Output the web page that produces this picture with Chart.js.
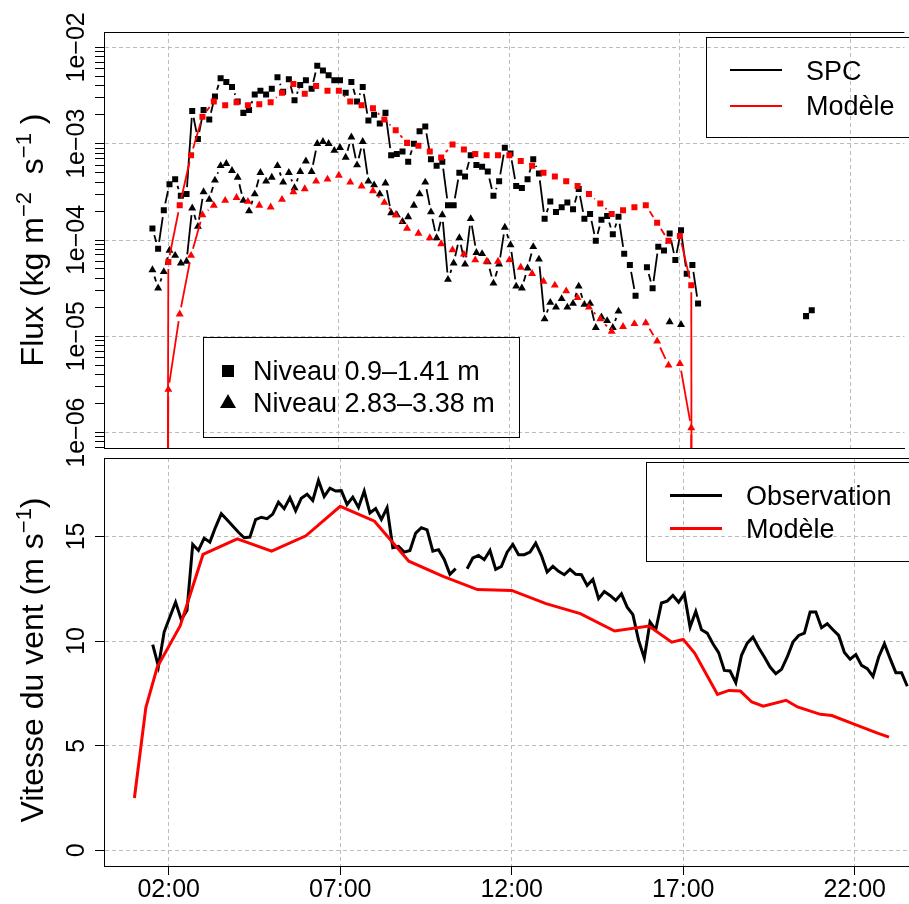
<!DOCTYPE html>
<html>
<head>
<meta charset="utf-8">
<script src="https://cdn.jsdelivr.net/npm/chart.js@4.4.0/dist/chart.umd.min.js"></script>
<style>
  body { margin: 0; background: #fff; overflow: hidden; font-family: "Liberation Sans", Arial, sans-serif; }
  #wrap { position: relative; width: 909px; height: 904px; }
  canvas { position: absolute; left: 0; }
  #flux { top: 0; z-index: 2; }
  #wind { top: 452px; z-index: 1; }
  .box { position: absolute; border: 1px solid #000; z-index: 3; }
  .ln { position: absolute; z-index: 3; }
  .tx { position: absolute; z-index: 3; font-size: 27px; line-height: 30px; color: #000; white-space: nowrap; }
  .sq { position: absolute; z-index: 3; width: 12px; height: 12px; background: #000; }
  .tri { position: absolute; z-index: 3; width: 0; height: 0; border-left: 8px solid transparent; border-right: 8px solid transparent; border-bottom: 14px solid #000; }
</style>
</head>
<body>
<div id="wrap">
  <canvas id="flux" width="909" height="480" style="width:909px;height:480px"></canvas>
  <canvas id="wind" width="909" height="452" style="width:909px;height:452px"></canvas>

  <!-- legend SPC / Modele -->
  <div class="box" style="left:706px;top:37px;width:260px;height:99px"></div>
  <div class="ln" style="left:730px;top:69px;width:52px;border-top:2px solid #000"></div>
  <div class="ln" style="left:730px;top:105px;width:52px;border-top:2px solid #f00"></div>
  <div class="tx" style="left:806px;top:56px">SPC</div>
  <div class="tx" style="left:806px;top:91px">Modèle</div>

  <!-- legend niveaux -->
  <div class="box" style="left:203px;top:337px;width:315px;height:99px"></div>
  <div class="sq" style="left:222px;top:365px"></div>
  <div class="tri" style="left:220px;top:394px"></div>
  <div class="tx" style="left:253px;top:356px">Niveau 0.9–1.41 m</div>
  <div class="tx" style="left:253px;top:388px">Niveau 2.83–3.38 m</div>

  <!-- legend vent -->
  <div class="box" style="left:646px;top:462px;width:280px;height:98px"></div>
  <div class="ln" style="left:670px;top:494px;width:52px;border-top:3px solid #000"></div>
  <div class="ln" style="left:670px;top:527px;width:52px;border-top:3px solid #f00"></div>
  <div class="tx" style="left:746px;top:481px">Observation</div>
  <div class="tx" style="left:746px;top:514px">Modèle</div>
</div>

<script>
// ---- time axis (minutes since 00:00) ----
const xMin = 6.8;
const xMax = 1415;
const hourTicks = [120, 420, 720, 1020, 1320];

// SPC and observed wind: one value every 10 minutes from 01:32
const obsStart = 92;
const obsStep = 10;

// SPC flux, level 0.9-1.41 m (kg m-2 s-1)
const spcLevel1 = [
  1.32e-4, 8.1e-5, 2.04e-4, 3.8e-4, 4.27e-4, 2.88e-4, 3.0e-4, 2.19e-3, 1.12e-3, 2.24e-3,
  1.78e-3, 3.09e-3, 4.79e-3, 4.37e-3, 3.89e-3, 2.75e-3, 2.09e-3, 2.24e-3, 3.24e-3, 3.55e-3,
  3.24e-3, 3.72e-3, 4.9e-3, 3.47e-3, 4.68e-3, 2.82e-3, 4.07e-3, 4.57e-3, 3.72e-3, 6.46e-3,
  5.75e-3, 5.13e-3, 4.57e-3, 4.57e-3, 3.39e-3, 4.37e-3, 2.75e-3, 3.89e-3, 1.74e-3, 2.0e-3,
  1.62e-3, 2.09e-3, 7.6e-4, 7.8e-4, 8.3e-4, 6.5e-4, 1.0e-3, 1.35e-3, 1.51e-3, 6.9e-4,
  5.9e-4, 6.5e-4, 2.29e-4, 2.29e-4, 5.0e-4, 4.57e-4, 7.6e-4, 6.0e-4, 5.75e-4, 5.13e-4,
  2.88e-4, 4.07e-4, 9.1e-4, 7.9e-4, 3.63e-4, 3.47e-4, 4.27e-4, 6.9e-4, 4.9e-4, 1.66e-4,
  2.51e-4, 1.95e-4, 2.19e-4, 2.45e-4, 2.09e-4, 3.39e-4, 1.66e-4, 1.86e-4, 9.8e-5, 1.62e-4,
  1.78e-4, 1.15e-4, 1.74e-4, 7.2e-5, 5.5e-5, 2.63e-5, null, 5.2e-5, 3.16e-5, 8.5e-5,
  7.8e-5, 1.17e-4, 6.2e-5, 1.26e-4, 4.47e-5, 5.5e-5, 2.19e-5, null, null, null,
  null, null, null, null, null, null, null, null, null, null,
  null, null, null, null, null, 1.62e-5, 1.86e-5
];

// SPC flux, level 2.83-3.38 m
const spcLevel2 = [
  4.9e-5, 3.16e-5, 4.68e-5, 7.8e-5, 6.9e-5, 5.75e-5, 6.0e-5, 2.14e-4, 1.38e-4, 3.16e-4,
  2.63e-4, 4.17e-4, 5.9e-4, 6.2e-4, 5.25e-4, 4.47e-4, 2.57e-4, 2.0e-4, 3.0e-4, 5.0e-4,
  4.07e-4, 4.47e-4, 5.9e-4, 3.98e-4, 5.0e-4, 3.47e-4, 5.13e-4, 6.6e-4, 5.13e-4, 1.0e-3,
  1.05e-3, 1.0e-3, 8.5e-4, 9.1e-4, 7.2e-4, 1.17e-3, 6.0e-4, 1.05e-3, 4.07e-4, 3.72e-4,
  3.0e-4, 3.89e-4, 1.91e-4, 1.82e-4, 1.55e-4, 1.74e-4, 2.29e-4, 3.0e-4, 3.98e-4, 1.95e-4,
  1.05e-4, 1.82e-4, 3.89e-5, 5.75e-5, 1.05e-4, 5.6e-5, 1.66e-4, 7.4e-5, 7.2e-5, 5.9e-5,
  3.55e-5, 5.6e-5, 1.35e-4, 8.9e-5, 3.31e-5, 3.16e-5, 5.1e-5, 8.5e-5, 6.3e-5, 1.51e-5,
  2.24e-5, 2.0e-5, 2.45e-5, 2.0e-5, 2.19e-5, 3.31e-5, 2.14e-5, 2.19e-5, 1.23e-5, 1.58e-5,
  1.45e-5, 1.23e-5, 1.82e-5, null, null, null, null, null, null, null,
  null, 1.41e-5, null, 1.32e-5
];

// model flux: one value every 20 minutes from 02:00 to 17:20
const modelStart = 120;
const modelStep = 20;
const modelLevel1 = [
  5.9e-5, 2.29e-4, 7.6e-4, 1.91e-3, 2.75e-3, 2.51e-3, 2.69e-3, 2.51e-3, 2.57e-3, 2.69e-3,
  3.39e-3, 4.17e-3, 3.31e-3, 3.98e-3, 3.55e-3, 3.55e-3, 2.75e-3, 2.51e-3, 2.34e-3, 1.78e-3,
  1.38e-3, 1.02e-3, 9.5e-4, 8.3e-4, 7.2e-4, 9.8e-4, 8.7e-4, 7.8e-4, 7.6e-4, 7.6e-4,
  7.6e-4, 6.6e-4, 5.9e-4, 5.0e-4, 4.57e-4, 4.07e-4, 3.63e-4, 3.0e-4, 2.4e-4, 1.86e-4,
  2.04e-4, 2.19e-4, 2.29e-4, 1.51e-4, 9.8e-5, 1.1e-4, 3.39e-5
];
const modelLevel2 = [
  2.8e-6, 1.7e-5, 6.9e-5, 1.82e-4, 2.29e-4, 2.57e-4, 2.75e-4, 2.51e-4, 2.29e-4, 2.19e-4,
  2.63e-4, 3.16e-4, 3.39e-4, 4.07e-4, 4.27e-4, 4.68e-4, 3.98e-4, 3.63e-4, 3.24e-4, 2.45e-4,
  1.82e-4, 1.32e-4, 1.17e-4, 1.05e-4, 9.1e-5, 7.9e-5, 7.1e-5, 6.2e-5, 6.0e-5, 6.0e-5,
  6.2e-5, 5.2e-5, 4.47e-5, 3.72e-5, 3.39e-5, 2.95e-5, 2.51e-5, 2.0e-5, 1.51e-5, 1.12e-5,
  1.26e-5, 1.35e-5, 1.38e-5, 8.9e-6, 5.0e-6, 5.2e-6, 1.12e-6
];
// model flux falls to (near) zero just outside its run, below the axis
const modelZeroTimes = [118, 1041];
const modelZero = 1e-9;

// wind speed (m s-1)
const windObs = [
  9.83, 8.79, 10.43, 11.15, 11.86, 11.02, 11.47, 14.62, 14.33, 14.92,
  14.73, 15.45, 16.09, 15.8, 15.5, 15.2, 14.94, 14.97, 15.81, 15.92,
  15.85, 16.07, 16.64, 16.33, 16.85, 16.23, 16.83, 17.02, 16.72, 17.68,
  16.91, 17.31, 17.17, 17.19, 16.53, 16.88, 16.39, 17.17, 16.12, 16.33,
  15.81, 16.37, 14.46, 14.52, 14.25, 14.33, 15.16, 15.42, 15.32, 14.30,
  14.37, 13.90, 13.19, 13.46, null, 13.46, 13.97, 14.09, 13.89, 14.33,
  13.43, 13.57, 14.25, 14.62, 14.13, 14.13, 14.25, 14.68, 14.09, 13.30,
  13.57, 13.33, 13.17, 13.43, 13.19, 13.17, 12.66, 12.95, 12.03, 12.37,
  12.18, 11.94, 12.26, 11.62, 11.26, 10.03, 9.19, 10.91, 10.54, 11.82,
  11.91, 12.18, 11.86, 12.26, 10.67, 11.42, 10.54, 10.38, 9.87, 9.45,
  8.60, 8.57, 8.01, 9.32, 9.90, 10.19, 9.68, 9.24, 8.76, 8.44,
  8.65, 9.24, 9.95, 10.27, 10.38, 11.39, 11.39, 10.64, 10.83, 10.54,
  10.27, 9.45, 9.13, 9.35, 8.84, 8.68, 8.31, 9.24, 9.87, 9.16,
  8.49, 8.49, 7.84
];
const windModelTimes = [60, 80, 100, 140, 180, 240, 300, 360, 420, 480, 540, 600, 660, 720, 780, 840,
  900, 960, 1000, 1020, 1040, 1080, 1100, 1120, 1140, 1160, 1200, 1220, 1260, 1280, 1320, 1360, 1380];
const windModel = [2.50, 6.82, 8.76, 10.72, 14.14, 14.89, 14.30, 15.03, 16.44, 15.73, 13.82, 13.09, 12.46, 12.42, 11.79, 11.31,
  10.48, 10.72, 9.95, 10.08, 9.43, 7.45, 7.64, 7.61, 7.09, 6.89, 7.17, 6.85, 6.50, 6.44, 6.02, 5.60, 5.41];

// ---- axis ticks ----
const fluxDecades = [1e-2, 1e-3, 1e-4, 1e-5, 1e-6];
const fluxDecadeLabels = ['1e−02', '1e−03', '1e−04', '1e−05', '1e−06'];
const windTicks = [0, 5, 10, 15];

const FONT = '"Liberation Sans", Arial, Helvetica, sans-serif';
const GRID = '#bcbcbc';
const GAP = 7;

function obsTime(i) { return obsStart + obsStep * i; }
function pts(times, vals) { return vals.map((v, i) => ({ x: times[i], y: v })); }

// R "type b": line segments stop short of the points
function segLen(c) { return Math.hypot(c.p1.x - c.p0.x, c.p1.y - c.p0.y); }
function typeB(color) {
  return {
    borderColor: c => segLen(c) > 2 * GAP ? color : 'rgba(0,0,0,0)',
    borderDash: c => {
      const L = segLen(c);
      return L > 2 * GAP ? [0, GAP, L - 2 * GAP, 5000] : [0, 5000];
    },
    borderDashOffset: c => c.p0DataIndex * 1e-6
  };
}

const spcTimes = spcLevel1.map((_, i) => obsTime(i));
const obsTimes = windObs.map((_, i) => obsTime(i));
const modelTimes = modelLevel1.map((_, i) => modelStart + modelStep * i);

function modelData(vals) {
  return [{ x: modelZeroTimes[0], y: modelZero }]
    .concat(pts(modelTimes, vals))
    .concat([{ x: modelZeroTimes[1], y: modelZero }]);
}

const frame = {
  id: 'frame',
  afterDraw(chart) {
    const a = chart.chartArea, ctx = chart.ctx;
    ctx.save();
    ctx.strokeStyle = '#000';
    ctx.lineWidth = 1;
    ctx.beginPath();
    ctx.moveTo(a.left, Math.round(a.top) + 0.5);
    ctx.lineTo(a.right, Math.round(a.top) + 0.5);
    ctx.stroke();
    ctx.restore();
  }
};

const yLabels = {
  id: 'yLabels',
  afterDraw(chart, args, o) {
    const s = chart.scales.y, ctx = chart.ctx;
    ctx.save();
    ctx.font = o.size + 'px ' + FONT;
    ctx.fillStyle = '#000';
    ctx.textAlign = 'center';
    ctx.textBaseline = 'alphabetic';
    o.values.forEach((v, i) => {
      ctx.save();
      ctx.translate(o.x, s.getPixelForValue(v));
      ctx.rotate(-Math.PI / 2);
      ctx.fillText(o.labels[i], 0, 0);
      ctx.restore();
    });
    ctx.restore();
  }
};

const yTitle = {
  id: 'yTitle',
  afterDraw(chart, args, o) {
    const ctx = chart.ctx, small = Math.round(o.size * 0.7);
    ctx.save();
    ctx.translate(o.x, o.y);
    ctx.rotate(-Math.PI / 2);
    ctx.fillStyle = '#000';
    ctx.textBaseline = 'alphabetic';
    let w = 0;
    o.parts.forEach(p => { ctx.font = (p.sup ? small : o.size) + 'px ' + FONT; w += ctx.measureText(p.t).width; });
    let x = -w / 2;
    o.parts.forEach(p => {
      ctx.font = (p.sup ? small : o.size) + 'px ' + FONT;
      ctx.fillText(p.t, x, p.sup ? -o.size * 0.38 : 0);
      x += ctx.measureText(p.t).width;
    });
    ctx.restore();
  }
};

const isDecade = v => Math.abs(Math.log10(v) - Math.round(Math.log10(v))) < 1e-6;

new Chart(document.getElementById('flux'), {
  type: 'line',
  data: {
    datasets: [
      { data: modelData(modelLevel1), borderColor: '#f00', backgroundColor: '#f00', borderWidth: 1.8,
        pointStyle: 'rect', pointRadius: 4.25, pointBorderWidth: 0, segment: typeB('#f00') },
      { data: modelData(modelLevel2), borderColor: '#f00', backgroundColor: '#f00', borderWidth: 1.8,
        pointStyle: 'triangle', pointRadius: 4.6, pointBorderWidth: 0, segment: typeB('#f00') },
      { data: pts(spcTimes, spcLevel1), borderColor: '#000', backgroundColor: '#000', borderWidth: 1.8,
        pointStyle: 'rect', pointRadius: 4.25, pointBorderWidth: 0, segment: typeB('#000') },
      { data: pts(spcTimes, spcLevel2), borderColor: '#000', backgroundColor: '#000', borderWidth: 1.8,
        pointStyle: 'triangle', pointRadius: 4.6, pointBorderWidth: 0, segment: typeB('#000') }
    ]
  },
  options: {
    responsive: false,
    animation: false,
    spanGaps: false,
    layout: { padding: { top: 32, left: 0, right: 0, bottom: 0 } },
    plugins: {
      legend: { display: false },
      tooltip: { enabled: false },
      yLabels: { values: fluxDecades, labels: fluxDecadeLabels, x: 84, size: 25 },
      yTitle: { x: 43, y: 240, size: 32,
        parts: [{ t: 'Flux (kg m' }, { t: '−2', sup: true }, { t: '  s' }, { t: '−1', sup: true }, { t: ' )' }] }
    },
    scales: {
      x: {
        type: 'linear', min: xMin, max: xMax,
        afterBuildTicks: s => { s.ticks = hourTicks.map(v => ({ value: v })); },
        afterFit: s => { s.height = 32; },
        ticks: { display: false },
        grid: { color: GRID, drawTicks: false },
        border: { display: true, color: '#000', width: 1, dash: [4, 3] }
      },
      y: {
        type: 'logarithmic', min: Math.pow(10, -6.16), max: Math.pow(10, -1.84),
        afterBuildTicks: s => {
          const t = [];
          for (let e = -7; e <= -1; e++) {
            for (let k = 1; k <= 9; k++) {
              const v = k * Math.pow(10, e);
              if (v >= s.min && v <= s.max) t.push({ value: v });
            }
          }
          s.ticks = t;
        },
        afterFit: s => { s.width = 104; },
        ticks: { display: false },
        grid: { color: c => (c.tick && isDecade(c.tick.value)) ? GRID : 'rgba(0,0,0,0)',
                tickColor: '#000', tickLength: 9, tickBorderDash: [] },
        border: { display: true, color: '#000', width: 1, dash: [4, 3] }
      }
    }
  },
  plugins: [frame, yLabels, yTitle]
});

new Chart(document.getElementById('wind'), {
  type: 'line',
  data: {
    datasets: [
      { data: pts(windModelTimes, windModel), borderColor: '#f00', borderWidth: 3, pointRadius: 0 },
      { data: pts(obsTimes, windObs), borderColor: '#000', borderWidth: 3, pointRadius: 0 }
    ]
  },
  options: {
    responsive: false,
    animation: false,
    spanGaps: false,
    layout: { padding: { top: 6, left: 0, right: 0, bottom: 0 } },
    plugins: {
      legend: { display: false },
      tooltip: { enabled: false },
      yLabels: { values: windTicks, labels: windTicks.map(String), x: 84, size: 25 },
      yTitle: { x: 43, y: 208, size: 32,
        parts: [{ t: 'Vitesse du vent (m s' }, { t: '−1', sup: true }, { t: ')' }] }
    },
    scales: {
      x: {
        type: 'linear', min: xMin, max: xMax,
        afterBuildTicks: s => { s.ticks = hourTicks.map(v => ({ value: v })); },
        afterFit: s => { s.height = 38; },
        ticks: { color: '#000', padding: 0, font: { size: 25, family: FONT },
                 callback: v => String(v / 60).padStart(2, '0') + ':00' },
        grid: { color: GRID, tickColor: '#000', tickLength: 9, tickBorderDash: [] },
        border: { display: true, color: '#000', width: 1, dash: [4, 3] }
      },
      y: {
        type: 'linear', min: -0.75, max: 18.75,
        afterBuildTicks: s => { s.ticks = windTicks.map(v => ({ value: v })); },
        afterFit: s => { s.width = 104; },
        ticks: { display: false },
        grid: { color: GRID, tickColor: '#000', tickLength: 9, tickBorderDash: [] },
        border: { display: true, color: '#000', width: 1, dash: [4, 3] }
      }
    }
  },
  plugins: [frame, yLabels, yTitle]
});
</script>
</body>
</html>
